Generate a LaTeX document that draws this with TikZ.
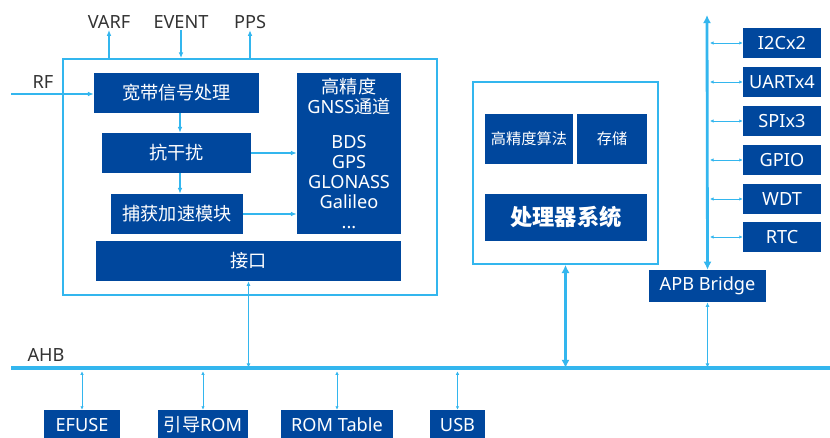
\documentclass[tikz,border=0pt]{standalone}
\usepackage{fontspec}
\setmainfont{Noto Sans}
\newfontfamily\cjk{Noto Sans CJK SC}
\usetikzlibrary{arrows.meta}

\definecolor{boxblue}{HTML}{00479D}
\definecolor{linkblue}{HTML}{33B6EE}
\definecolor{labelgray}{HTML}{333333}

\tikzset{
  block/.style={fill=boxblue, text=white, inner sep=0pt, align=center,
    font=\fontsize{15.5}{17}\selectfont},
  frame/.style={draw=linkblue, line width=1.4pt, inner sep=0pt},
  pinlabel/.style={text=labelgray, inner sep=1pt, font=\fontsize{15.5}{17}\selectfont},
  link/.style={draw=linkblue, line width=1.3pt, -{Latex[length=5pt,width=4pt]}},
  duplex/.style={draw=linkblue, line width=1.1pt, {Latex[length=4pt,width=3.5pt]}-{Latex[length=4pt,width=3.5pt]}},
  thinduplex/.style={draw=linkblue, line width=0.8pt, {Latex[length=3pt,width=3pt]}-{Latex[length=3pt,width=3pt]}},
  fatduplex/.style={draw=linkblue, line width=2.4pt, {Latex[length=7pt,width=7pt]}-{Latex[length=7pt,width=7pt]}},
}

\begin{document}
\begin{tikzpicture}[x=0.03cm, y=-0.03cm]
    \useasboundingbox (0,0) rectangle (830,437);

        % GNSS part
        \node[frame, minimum width=11.22cm, minimum height=7.08cm] (gnss) at (250,177) {};
        \node[block, minimum width=4.95cm, minimum height=1.2cm] (wideband) at (176.5,93) {\cjk 宽带信号处理};
        \node[block, minimum width=4.47cm, minimum height=1.2cm] (antijam) at (176.5,153) {\cjk 抗干扰};
        \node[block, minimum width=3.96cm, minimum height=1.2cm] (acquire) at (177,214) {\cjk 捕获加速模块};
        \node[block, minimum width=3.12cm, minimum height=4.83cm] (channel) at (349,153.5)
            {{\cjk 高精度}\\GNSS{\cjk 通道}\\[13pt]BDS\\GPS\\GLONASS\\Galileo\\...};
        \node[block, minimum width=9.15cm, minimum height=1.2cm] (iface) at (248.5,261) {\cjk 接口};

        % Processor part
        \node[frame, minimum width=5.55cm, minimum height=5.46cm] (cpubox) at (565.5,173) {};
        \node[block, minimum width=2.64cm, minimum height=1.5cm, font=\fontsize{13}{15}\selectfont] (algo) at (529,139) {\cjk 高精度算法};
        \node[block, minimum width=2.1cm, minimum height=1.5cm, font=\fontsize{13}{15}\selectfont] (mem) at (612,139) {\cjk 存储};
        \node[block, minimum width=4.86cm, minimum height=1.41cm, font=\fontsize{19}{21}\bfseries] (cpu) at (566,217.5) {\cjk 处理器系统};

        % APB side
        \node[block, minimum width=3.51cm, minimum height=0.96cm] (apb) at (707.5,286) {APB Bridge};
        \node[block, minimum width=2.34cm, minimum height=0.9cm] (i2c) at (782,43) {I2Cx2};
        \node[block, minimum width=2.34cm, minimum height=0.9cm] (uart) at (782,82) {UARTx4};
        \node[block, minimum width=2.34cm, minimum height=0.9cm] (spi) at (782,121) {SPIx3};
        \node[block, minimum width=2.34cm, minimum height=0.9cm] (gpio) at (782,160) {GPIO};
        \node[block, minimum width=2.34cm, minimum height=0.9cm] (wdt) at (782,199) {WDT};
        \node[block, minimum width=2.34cm, minimum height=0.9cm] (rtc) at (782,237) {RTC};

        % AHB side
        \node[block, minimum width=2.28cm, minimum height=0.9cm] (efuse) at (82,425) {EFUSE};
        \node[block, minimum width=2.7cm, minimum height=0.9cm] (bootrom) at (203,425) {{\cjk 引导}ROM};
        \node[block, minimum width=3.36cm, minimum height=0.9cm] (romtab) at (337,425) {ROM Table};
        \node[block, minimum width=1.65cm, minimum height=0.9cm] (usb) at (457.5,425) {USB};

        % Pin labels
        \node[pinlabel] (varf) at (109,22) {VARF};
        \node[pinlabel] (event) at (181,22) {EVENT};
        \node[pinlabel] (pps) at (250,22) {PPS};
        \node[pinlabel] (rf) at (43,82) {RF};
        \node[pinlabel] (ahb) at (46,355) {AHB};
        \coordinate (rfin) at (11,94);
        \coordinate (busL) at (11,368);
        \coordinate (busR) at (830,368);
        \coordinate (apbtop) at (707,15);
        \coordinate (apbx) at (710,0);

        % Buses
        \draw[linkblue, line width=2.6pt] (busL) -- (busR);
        \draw[fatduplex] (apbtop) -- (apb.north);

        % Links inside the GNSS part
        \draw[link] (rfin) -- (wideband.west |- rfin);
        \draw[link] (wideband.south -| 180,0) -- (antijam.north -| 180,0);
        \draw[link] (antijam.south -| 180,0) -- (acquire.north -| 180,0);
        \draw[link] (antijam.east) -- (channel.west |- antijam.east);
        \draw[link] (acquire.east) -- (channel.west |- acquire.east);
        \draw[link] (gnss.north -| varf) -- (varf.south);
        \draw[link] (event.south) -- (gnss.north -| event);
        \draw[link] (gnss.north -| pps) -- (pps.south);

        % Links to the buses
        \draw[duplex] (iface.south) -- (iface.south |- busL);
        \draw[fatduplex] (cpubox.south) -- (cpubox.south |- busL);
        \draw[duplex] (apb.south) -- (apb.south |- busL);
        \foreach \p in {i2c,uart,spi,gpio,wdt,rtc}
            \draw[thinduplex] (\p.west -| apbx) -- (\p.west);
        \foreach \p in {efuse,bootrom,romtab,usb}
            \draw[thinduplex] (\p.north) -- ([yshift=-0.1cm]\p.north |- busL);

\end{tikzpicture}
\end{document}
